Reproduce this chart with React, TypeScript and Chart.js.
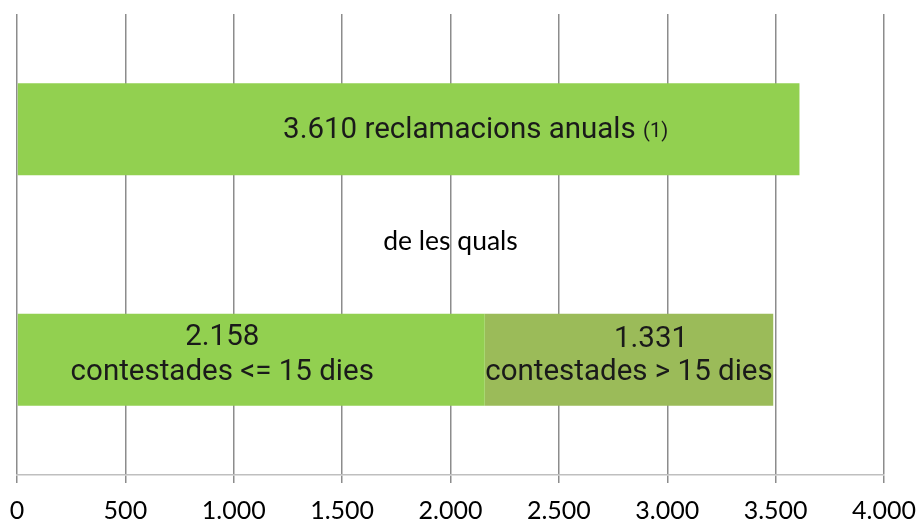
import React, { useEffect, useRef } from "react";
import { Chart, registerables } from "chart.js";

Chart.register(...registerables);

const categories = ["total", "contestades"];
const withinValues = [3610, 2158];
const overValues = [0, 1331];
const tickMax = 4000;
const tickStep = 500;
const topLabelText = "reclamacions anuals";
const topLabelNote = "(1)";
const middleText = "de les quals";
const withinText = "contestades <= 15 dies";
const overText = "contestades > 15 dies";

const fmt = (v: number) => String(Math.round(v)).replace(/\B(?=(\d{3})+(?!\d))/g, ".");

const labelFont = "Roboto, 'Noto Sans', sans-serif";
const axisFont = "Lato, 'Open Sans', sans-serif";

const labelPlugin = {
  id: "customLabels",
  afterDatasetsDraw(chart: any) {
    const ctx = chart.ctx;
    const area = chart.chartArea;
    const m0 = chart.getDatasetMeta(0);
    const m1 = chart.getDatasetMeta(1);
    ctx.save();
    ctx.fillStyle = "#1a1a1a";
    ctx.textBaseline = "alphabetic";

    // top bar label
    const top = m0.data[0];
    const topCx = (top.base + top.x) / 2 + 67;
    const mainStr = fmt(withinValues[0]) + " " + topLabelText + " ";
    ctx.font = `29.5px ${labelFont}`;
    const w1 = ctx.measureText(mainStr).width;
    ctx.font = `20px ${labelFont}`;
    const w2 = ctx.measureText(topLabelNote).width;
    const sx = topCx - (w1 + w2) / 2;
    ctx.textAlign = "left";
    ctx.font = `29.5px ${labelFont}`;
    ctx.fillText(mainStr, sx, top.y + 9);
    ctx.font = `20px ${labelFont}`;
    ctx.fillText(topLabelNote, sx + w1, top.y + 8);

    // bottom left label
    const b0 = m0.data[1];
    const b0Cx = (b0.base + b0.x) / 2 - 29;
    ctx.textAlign = "center";
    ctx.font = `29.5px ${labelFont}`;
    ctx.fillText(fmt(withinValues[1]), b0Cx, b0.y - 15);
    ctx.fillText(withinText, b0Cx, b0.y + 20);

    // bottom right label
    const b1 = m1.data[1];
    const b1Cx = (b1.base + b1.x) / 2;
    ctx.fillText(fmt(overValues[1]), b1Cx + 22, b1.y - 13);
    ctx.fillText(overText, b1Cx, b1.y + 20);

    // middle text
    ctx.font = `26.5px ${axisFont}`;
    ctx.fillStyle = "#000";
    ctx.textBaseline = "middle";
    ctx.fillText(middleText, (area.left + area.right) / 2, (area.top + area.bottom) / 2 - 3);
    ctx.restore();
  },
};

export default function App() {
  const ref = useRef<HTMLCanvasElement | null>(null);
  useEffect(() => {
    document.body.style.margin = "0";
    const chart = new Chart(ref.current as HTMLCanvasElement, {
      type: "bar",
      data: {
        labels: categories,
        datasets: [
          {
            data: withinValues,
            backgroundColor: "#92D050",
            categoryPercentage: 0.4,
            barPercentage: 1,
          },
          {
            data: overValues,
            backgroundColor: "#9BBB59",
            categoryPercentage: 0.4,
            barPercentage: 1,
          },
        ],
      },
      options: {
        indexAxis: "y",
        responsive: false,
        animation: false,
        layout: { padding: { left: 17, right: 33, top: 14, bottom: 0 } },
        plugins: { legend: { display: false }, tooltip: { enabled: false } },
        scales: {
          x: {
            stacked: true,
            min: 0,
            max: tickMax,
            afterFit: (scale: any) => {
              scale.paddingLeft = 0;
              scale.paddingRight = 0;
              scale.height = 45;
            },
            ticks: {
              stepSize: tickStep,
              color: "#000",
              font: { family: axisFont, size: 25 },
              padding: 13,
              maxRotation: 0,
              callback: (v: any) => fmt(Number(v)),
            },
            grid: { color: "#8c8c8c", lineWidth: 1.5, tickLength: 8, drawTicks: true },
            border: { display: true, color: "#bfbfbf", width: 1.5 },
          },
          y: {
            stacked: true,
            display: false,
          },
        },
      },
      plugins: [labelPlugin],
    } as any);
    return () => chart.destroy();
  }, []);
  return (
    <div style={{ width: 917, height: 520 }}>
      <canvas ref={ref} width={917} height={520} style={{ display: "block" }} />
    </div>
  );
}
